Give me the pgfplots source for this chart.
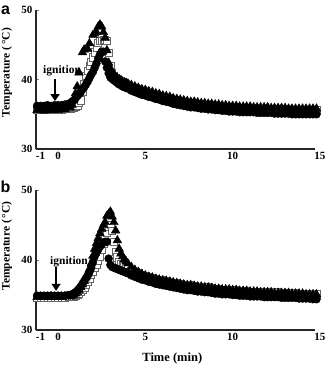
\documentclass[border=0pt]{standalone}
\usepackage{pgfplots}
\usepackage{pgfplotstable}
\pgfplotsset{compat=1.18}
\usepackage{fontspec}
\setmainfont{Liberation Serif}
\newfontfamily\arialfont{Liberation Sans}
\usetikzlibrary{arrows.meta}

\pgfplotstableread{
t c s r
-1.2 36.2 35.6 35.6
-1.0 36.2 35.6 35.6
-0.8 36.2 35.6 35.5
-0.6 36.3 35.6 35.6
-0.4 36.2 35.7 35.6
-0.2 36.3 35.7 35.6
0.0 36.3 35.7 35.6
0.2 36.3 35.7 35.7
0.4 36.4 35.8 35.7
0.6 36.5 35.8 35.9
0.7 36.6 35.8 36.0
0.8 36.8 35.9 36.3
0.9 37.0 36.0 37.0
1.0 37.3 36.1 38.0
1.1 37.6 36.3 39.0
1.2 37.9 36.6 41.0
1.3 38.2 37.0 nan
1.4 38.6 38.2 43.9
1.5 38.9 39.4 44.3
1.6 39.3 40.5 nan
1.7 39.7 41.2 44.4
1.8 40.2 42.0 45.2
1.9 40.7 42.6 nan
2.0 41.1 43.2 46.4
2.1 41.7 43.9 46.6
2.2 42.3 44.6 46.8
2.3 43.0 45.3 47.6
2.4 43.6 45.6 47.9
2.5 44.0 45.6 47.6
2.6 44.0 45.7 46.8
2.7 42.6 45.7 46.0
2.8 41.7 45.6 44.2
2.9 40.9 43.8 42.4
3.0 40.3 42.0 41.6
3.1 40.1 41.0 41.1
3.2 39.9 40.5 40.7
3.3 39.7 40.2 40.4
3.4 39.5 40.0 40.2
3.5 39.3 39.8 40.0
3.6 39.2 39.7 39.9
3.7 39.0 39.6 39.7
3.8 38.9 39.5 39.6
3.9 38.8 39.4 39.5
4.0 38.7 39.2 39.4
4.2 38.4 39.0 39.2
4.4 38.2 38.8 39.0
4.6 38.0 38.6 38.8
4.8 37.8 38.4 38.6
5.0 37.7 38.3 38.5
5.2 37.5 38.1 38.3
5.4 37.4 38.0 38.2
5.6 37.2 37.8 38.0
5.8 37.1 37.7 37.9
6.0 36.9 37.5 37.7
6.2 36.8 37.4 37.6
6.4 36.7 37.3 37.5
6.6 36.5 37.1 37.3
6.8 36.4 37.0 37.2
7.0 36.3 36.9 37.1
7.2 36.2 36.8 37.0
7.4 36.1 36.7 36.9
7.6 36.0 36.6 36.8
7.8 36.0 36.6 36.8
8.0 35.9 36.5 36.7
8.2 35.8 36.4 36.6
8.4 35.8 36.4 36.6
8.6 35.7 36.3 36.5
8.8 35.7 36.3 36.5
9.0 35.6 36.2 36.4
9.2 35.6 36.2 36.4
9.4 35.5 36.1 36.3
9.6 35.5 36.1 36.3
9.8 35.4 36.0 36.2
10.0 35.4 36.0 36.2
10.2 35.4 36.0 36.2
10.4 35.3 35.9 36.1
10.6 35.3 35.9 36.1
10.8 35.3 35.9 36.1
11.0 35.3 35.9 36.1
11.2 35.3 35.9 36.0
11.4 35.2 35.8 36.0
11.6 35.2 35.8 36.0
11.8 35.2 35.8 36.0
12.0 35.2 35.8 36.0
12.2 35.2 35.8 35.9
12.4 35.1 35.7 35.9
12.6 35.1 35.7 35.9
12.8 35.1 35.7 35.9
13.0 35.1 35.7 35.9
13.2 35.1 35.7 35.8
13.4 35.0 35.6 35.8
13.6 35.0 35.6 35.8
13.8 35.0 35.6 35.8
14.0 35.0 35.6 35.8
14.2 35.0 35.6 35.8
14.4 35.0 35.6 35.8
14.6 35.0 35.6 35.8
14.8 35.0 35.6 35.8
}\dataA

\pgfplotstableread{
t c s r
-1.2 34.9 34.6 34.7
-1.0 34.9 34.6 34.7
-0.8 34.9 34.6 34.7
-0.6 34.9 34.6 34.7
-0.4 34.9 34.6 34.8
-0.2 34.9 34.6 34.7
0.0 34.9 34.6 34.7
0.2 34.9 34.6 34.7
0.4 34.9 34.6 34.8
0.6 35.0 34.7 34.8
0.7 35.0 34.7 34.8
0.8 35.1 34.7 34.9
0.9 35.2 34.8 35.0
1.0 35.4 34.9 35.2
1.1 35.6 35.0 35.4
1.2 35.9 35.2 35.7
1.3 36.2 35.5 36.1
1.4 36.6 35.8 36.5
1.5 37.0 36.1 37.0
1.6 37.4 36.5 37.5
1.7 37.8 36.9 38.0
1.8 38.3 37.4 38.7
1.9 38.9 37.9 39.5
2.0 39.7 38.4 40.6
2.1 40.5 38.9 41.6
2.2 41.0 39.4 42.4
2.3 41.5 39.9 43.1
2.4 41.9 40.5 43.8
2.5 42.2 41.5 44.4
2.6 42.5 42.4 45.0
2.7 42.6 43.2 45.4
2.8 42.6 43.9 46.3
2.9 40.2 44.7 46.6
3.0 39.3 45.0 46.9
3.1 39.0 44.2 46.2
3.2 38.9 42.6 45.4
3.3 38.8 41.2 44.2
3.4 38.7 40.4 42.8
3.5 38.6 39.8 41.6
3.6 38.5 39.5 40.9
3.7 38.4 39.3 40.5
3.8 38.3 39.1 40.1
3.9 38.2 38.9 39.8
4.0 38.1 38.7 39.5
4.2 37.8 38.5 39.0
4.4 37.6 38.3 38.6
4.6 37.4 38.1 38.3
4.8 37.2 37.9 38.0
5.0 37.1 37.8 37.8
5.2 36.9 37.6 37.6
5.4 36.8 37.5 37.5
5.6 36.6 37.3 37.3
5.8 36.5 37.2 37.2
6.0 36.4 37.1 37.1
6.2 36.3 37.0 37.0
6.4 36.2 36.9 36.9
6.6 36.1 36.8 36.8
6.8 36.0 36.7 36.7
7.0 35.9 36.6 36.6
7.2 35.8 36.5 36.5
7.4 35.7 36.4 36.4
7.6 35.7 36.4 36.4
7.8 35.6 36.3 36.3
8.0 35.5 36.2 36.2
8.2 35.5 36.2 36.2
8.4 35.4 36.1 36.1
8.6 35.4 36.1 36.1
8.8 35.3 36.0 36.0
9.0 35.2 35.9 35.9
9.2 35.2 35.9 35.9
9.4 35.1 35.8 35.8
9.6 35.1 35.8 35.8
9.8 35.1 35.8 35.8
10.0 35.0 35.7 35.7
10.2 35.0 35.7 35.7
10.4 34.9 35.6 35.6
10.6 34.9 35.6 35.6
10.8 34.9 35.6 35.6
11.0 34.8 35.5 35.5
11.2 34.8 35.5 35.5
11.4 34.8 35.5 35.5
11.6 34.8 35.5 35.4
11.8 34.7 35.4 35.4
12.0 34.7 35.4 35.4
12.2 34.7 35.4 35.4
12.4 34.7 35.4 35.3
12.6 34.7 35.4 35.3
12.8 34.6 35.3 35.3
13.0 34.6 35.3 35.3
13.2 34.6 35.3 35.3
13.4 34.6 35.3 35.2
13.6 34.6 35.3 35.2
13.8 34.5 35.2 35.2
14.0 34.5 35.2 35.2
14.2 34.5 35.2 35.1
14.4 34.5 35.2 35.1
14.6 34.4 35.1 35.1
14.8 34.4 35.1 35.1
}\dataB

\pgfplotsset{
  panel/.style={
    scale only axis,
    width=284pt,
    xmin=-1.26, xmax=15,
    ymin=30, ymax=50,
    axis lines=left,
    axis line style={-, line width=1.2pt, black!85},
    x axis line style={shorten >=5pt},
    xtick={-1,0,5,10,15},
    ytick={30,40,50},
    tick align=inside,
    major tick length=3pt,
    xtick style={draw=none},
    ytick style={line width=0.8pt},
    tick label style={font=\fontsize{11}{12}\selectfont\bfseries},
    /pgf/number format/assume math mode=true,
    ylabel={Temperature (\,\textdegree C)},
    ylabel style={font=\fontsize{11.5}{12}\selectfont\bfseries, anchor=center},
    clip=false,
    unbounded coords=discard,
  },
  sq/.style={only marks, mark=square*, mark size=3.6pt, mark options={fill=white, draw=black!60, line width=0.6pt}},
  ci/.style={only marks, mark=*, mark size=4pt, mark options={fill=black, draw=black}},
  tr/.style={only marks, mark=triangle*, mark size=5pt, mark options={fill=black, draw=black}},
}

\begin{document}
\begin{tikzpicture}[x=1pt,y=1pt]
\path[use as bounding box] (0,0) rectangle (327,365);

\begin{axis}[panel, at={(36pt,216pt)}, anchor=south west, height=139pt,
  ylabel style={at={(axis description cs:-0.103,0.55)}}]
  \node[anchor=base west, font=\fontsize{11.5}{12}\selectfont\bfseries, inner sep=0pt] at (axis cs:-0.86,40.85) {ignition};
  \addplot[sq] table[x=t,y=s] {\dataA};
  \addplot[ci] table[x=t,y=c] {\dataA};
  \addplot[tr] table[x=t,y=r] {\dataA};
  \draw[line width=1.6pt, -{Triangle[length=7pt,width=9pt]}] (axis cs:-0.17,40.1) -- (axis cs:-0.17,36.9);
\end{axis}

\begin{axis}[panel, at={(36pt,35pt)}, anchor=south west, height=140pt,
  ylabel style={at={(axis description cs:-0.103,0.6)}},
  xlabel={Time (min)},
  xlabel style={font=\fontsize{12.5}{13}\selectfont\bfseries, at={(axis description cs:0.48,-0.207)}, anchor=center}]
  \node[anchor=base west, font=\fontsize{11.5}{12}\selectfont\bfseries, inner sep=0pt] at (axis cs:-0.46,39.4) {ignition};
  \addplot[sq] table[x=t,y=s] {\dataB};
  \addplot[ci] table[x=t,y=c] {\dataB};
  \addplot[tr] table[x=t,y=r] {\dataB};
  \draw[line width=1.6pt, -{Triangle[length=7pt,width=9pt]}] (axis cs:-0.11,39.0) -- (axis cs:-0.11,35.6);
\end{axis}

\node[font=\arialfont\fontsize{16}{16}\selectfont\bfseries, anchor=center] at (5.5,355) {a};
\node[font=\arialfont\fontsize{16}{16}\selectfont\bfseries, anchor=center] at (5.5,178) {b};
\end{tikzpicture}
\end{document}
